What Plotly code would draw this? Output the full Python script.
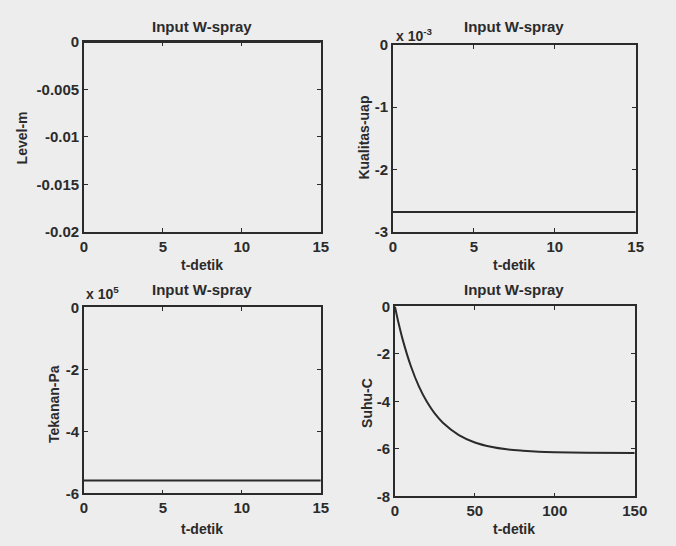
import plotly.graph_objects as go

# ---- data ----
t_short = [0, 15]
level_m = [0.0, 0.0]
kualitas_uap = [-2.68e-3, -2.68e-3]
tekanan_pa = [-5.58e5, -5.58e5]
t_suhu = [0, 2, 5, 10, 15, 20, 25, 30, 40, 50, 60, 70, 80, 90, 100, 120, 150]
suhu_c = [0.0, -0.62, -1.43, -2.52, -3.37, -4.02, -4.52, -4.90, -5.42, -5.73,
          -5.91, -6.02, -6.08, -6.12, -6.14, -6.16, -6.17]

x_ticks_short = [0, 5, 10, 15]
x_ticks_long = [0, 50, 100, 150]
level_ticks = [0, -0.005, -0.01, -0.015, -0.02]
level_ticktext = ["0", "-0.005", "-0.01", "-0.015", "-0.02"]
kual_ticks = [0, -1e-3, -2e-3, -3e-3]
kual_ticktext = ["0", "-1", "-2", "-3"]
tek_ticks = [0, -2e5, -4e5, -6e5]
tek_ticktext = ["0", "-2", "-4", "-6"]
suhu_ticks = [0, -2, -4, -6, -8]

title_text = "Input W-spray"
x_title = "t-detik"

W, H = 676, 546
INK = "#2b2b2b"
BG = "#ededed"
FONT = "Liberation Sans, Arial, sans-serif"

def dx(a, b):
    return [a / W, b / W]

def dy(top, bottom):
    return [1 - bottom / H, 1 - top / H]

fig = go.Figure()
line = dict(color=INK, width=2)
fig.add_trace(go.Scatter(x=t_short, y=level_m, mode="lines", line=line, xaxis="x", yaxis="y"))
fig.add_trace(go.Scatter(x=t_short, y=kualitas_uap, mode="lines", line=line, xaxis="x2", yaxis="y2"))
fig.add_trace(go.Scatter(x=t_short, y=tekanan_pa, mode="lines", line=line, xaxis="x3", yaxis="y3"))
fig.add_trace(go.Scatter(x=t_suhu, y=suhu_c, mode="lines", line=dict(color=INK, width=2, shape="spline"),
                         xaxis="x4", yaxis="y4"))

axcommon = dict(showline=True, linecolor=INK, linewidth=1.6, mirror="allticks", ticks="inside",
                ticklen=4, tickcolor=INK, showgrid=False, zeroline=False,
                tickfont=dict(family=FONT, size=15, color=INK, weight="bold"))

panels = [
    ((82, 325), (34, 230), [0, 15], x_ticks_short, [-0.02, 0], level_ticks, level_ticktext),
    ((399, 648), (37, 230), [0, 15], x_ticks_short, [-3e-3, 0], kual_ticks, kual_ticktext),
    ((82, 325), (308, 500), [0, 15], x_ticks_short, [-6e5, 0], tek_ticks, tek_ticktext),
    ((401, 647), (307, 503), [0, 150], x_ticks_long, [-8, 0], suhu_ticks, [str(v) for v in suhu_ticks]),
]

layout = dict(width=W, height=H, margin=dict(l=0, r=0, t=0, b=0), showlegend=False,
              paper_bgcolor=BG, plot_bgcolor=BG)
for i, (xd, yd, xr, xt, yr, yt, ytt) in enumerate(panels, start=1):
    sfx = "" if i == 1 else str(i)
    layout["xaxis" + sfx] = dict(axcommon, domain=dx(*xd), range=xr, tickvals=xt,
                                 anchor="y" + sfx)
    layout["yaxis" + sfx] = dict(axcommon, domain=dy(*yd), range=yr, tickvals=yt, ticktext=ytt,
                                 anchor="x" + sfx)
fig.update_layout(**layout)

def ann(x, y, text, size=14, angle=0, xanchor="center"):
    fig.add_annotation(x=x / W, y=1 - y / H, xref="paper", yref="paper", text=text,
                       showarrow=False, textangle=angle, xanchor=xanchor, yanchor="middle",
                       font=dict(family=FONT, size=size, color=INK, weight="bold"))

# titles
ann(203, 18, title_text, size=15)
ann(523, 18, title_text, size=15)
ann(203, 289, title_text, size=15)
ann(523, 290, title_text, size=15)
# x titles
ann(203, 264, x_title)
ann(523, 264, x_title)
ann(203, 537, x_title)
ann(523, 537, x_title)
# y titles
ann(18, 133, "Level-m", angle=-90)
ann(369, 133, "Kualitas-uap", angle=-90)
ann(52, 408, "Tekanan-Pa", angle=-90)
ann(373, 407, "Suhu-C", angle=-90)
# exponent labels
ann(400, 27, "x 10<sup>-3</sup>", xanchor="left")
ann(82, 293, "x 10<sup>5</sup>", xanchor="left")

fig.write_html("out.html")
